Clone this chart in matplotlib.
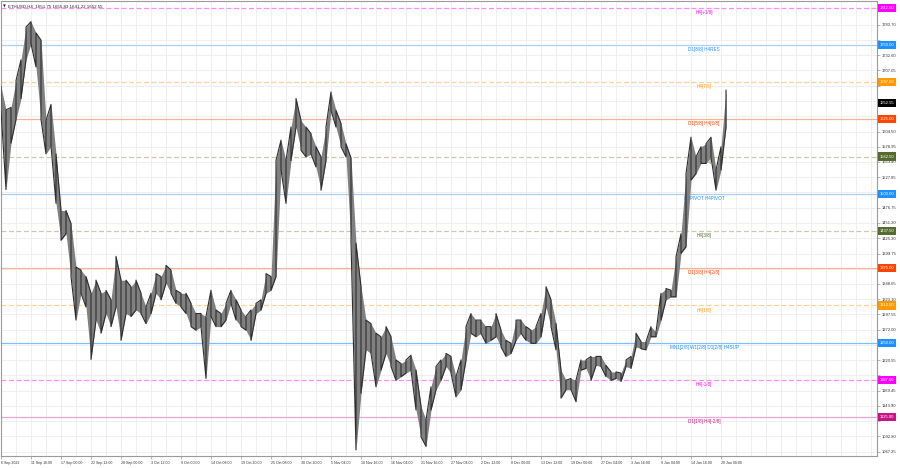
import matplotlib
matplotlib.use("Agg")
import matplotlib.pyplot as plt
import matplotlib.transforms as mtransforms

# ETHUSD H4 - price envelope, one sample every ~5 px
highs = [1680, 1641, 1645, 1690, 1725, 1780, 1789, 1770, 1758, 1623,
         1650, 1567, 1472, 1472, 1450, 1377, 1372, 1361, 1333, 1355,
         1333, 1338, 1322, 1395, 1355, 1355, 1344, 1355, 1333, 1310,
         1333, 1366, 1361, 1380, 1372, 1338, 1333, 1333, 1316, 1299,
         1299, 1294, 1338, 1305, 1299, 1316, 1338, 1322, 1305, 1294,
         1305, 1316, 1322, 1366, 1361, 1556, 1590, 1556, 1612, 1660,
         1623, 1612, 1601, 1579, 1562, 1612, 1671, 1640, 1618, 1584,
         1560, 1417, 1344, 1288, 1282, 1266, 1260, 1277, 1260, 1221,
         1215, 1221, 1229, 1204, 1143, 1120, 1176, 1210, 1221, 1232,
         1227, 1193, 1221, 1277, 1299, 1288, 1288, 1277, 1277, 1299,
         1271, 1254, 1249, 1288, 1288, 1277, 1271, 1277, 1299, 1344,
         1322, 1282, 1204, 1187, 1190, 1187, 1221, 1221, 1227, 1227,
         1227, 1212, 1201, 1201, 1199, 1221, 1227, 1266, 1252, 1252,
         1277, 1268, 1333, 1341, 1338, 1394, 1433, 1534, 1595, 1562,
         1579, 1584, 1595, 1540, 1579, 1674]
lows = [1640, 1507, 1585, 1625, 1660, 1725, 1752, 1713, 1625, 1567,
        1580, 1484, 1422, 1433, 1361, 1288, 1333, 1310, 1222, 1288,
        1266, 1299, 1277, 1310, 1254, 1299, 1294, 1305, 1299, 1282,
        1299, 1333, 1322, 1350, 1333, 1316, 1310, 1299, 1277, 1271,
        1277, 1190, 1294, 1277, 1277, 1288, 1316, 1288, 1277, 1271,
        1254, 1299, 1305, 1333, 1338, 1361, 1540, 1484, 1556, 1612,
        1573, 1562, 1567, 1545, 1506, 1556, 1640, 1612, 1579, 1562,
        1420, 1070, 1165, 1238, 1232, 1176, 1204, 1232, 1210, 1187,
        1193, 1199, 1204, 1137, 1092, 1076, 1137, 1171, 1187, 1210,
        1199, 1159, 1171, 1221, 1266, 1260, 1266, 1249, 1254, 1260,
        1243, 1227, 1232, 1254, 1266, 1254, 1249, 1249, 1260, 1310,
        1277, 1238, 1157, 1171, 1171, 1151, 1204, 1207, 1187, 1212,
        1210, 1193, 1187, 1190, 1185, 1210, 1207, 1243, 1240, 1238,
        1260, 1260, 1288, 1322, 1327, 1327, 1400, 1411, 1523, 1534,
        1551, 1551, 1562, 1506, 1540, 1612]

date_labels = ["6 Sep 2022", "11 Sep 16:00", "17 Sep 00:00", "22 Sep 12:00",
               "28 Sep 00:00", "3 Oct 12:00", "9 Oct 00:00", "14 Oct 08:00",
               "19 Oct 20:00", "25 Oct 08:00", "30 Oct 20:00", "5 Nov 04:00",
               "10 Nov 16:00", "16 Nov 04:00", "21 Nov 16:00", "27 Nov 04:00",
               "2 Dec 12:00", "8 Dec 00:00", "13 Dec 12:00", "19 Dec 00:00",
               "27 Dec 04:00", "3 Jan 16:00", "9 Jan 04:00", "14 Jan 16:00",
               "20 Jan 00:00"]

price_ticks = [1067.25, 1092.80, 1118.35, 1143.90, 1169.45, 1195.00, 1220.55,
               1246.45, 1272.00, 1297.55, 1323.10, 1348.65, 1374.20, 1399.75,
               1425.30, 1451.20, 1476.75, 1502.30, 1527.85, 1553.40, 1578.95,
               1604.50, 1630.35, 1655.95, 1681.50, 1707.05, 1732.60, 1758.15,
               1783.70]

# Murrey math levels
levels = [1812.50, 1750.00, 1687.50, 1625.00, 1562.50, 1500.00,
          1437.50, 1375.00, 1312.50, 1250.00, 1187.50, 1125.00]
level_names = ["H4[+1/8]", "D1[8/8] H4RES", "H4[7/8]", "D1[5/8] H4[6/8]",
               "H4[5/8]", "D1PIVOT H4PIVOT", "H4[3/8]", "D1[3/8] H4[2/8]",
               "H4[1/8]", "MN1[2/8] W1[2/8] D1[2/8] H4SUP", "H4[-1/8]",
               "D1[1/8] H4[-2/8]"]
line_colors = ["#ff8cff", "#a9d0f5", "#ffd09a", "#f7b39a", "#cfc8b0", "#a9d0f5",
               "#cfc8b0", "#f7b39a", "#ffd09a", "#7fbfff", "#ff8cff", "#e9a6d8"]
line_styles = ["--", "-", "--", "-", "--", "-", "--", "-", "--", "-", "--", "-"]
box_colors = ["#ff00ff", "#1e90ff", "#ff9900", "#ff4500", "#556b2f", "#1e90ff",
              "#556b2f", "#ff4500", "#ff9900", "#1e90ff", "#ff00ff", "#c71585"]

last_price = 1652.55
title = "ETHUSD,H4  1651.75 1655.83 1641.22 1652.55"

plt.rcParams["font.family"] = ["Liberation Sans", "DejaVu Sans"]

fig = plt.figure(figsize=(9, 4.68), dpi=100)
ax = fig.add_axes([1 / 900, 12 / 468, 876 / 900, 455 / 468])
ax.set_facecolor("white")

x = list(range(len(highs)))
ax.set_xlim(0, 175.2)
ax.set_ylim(1059.8, 1823.7)

# grid
for gx in range(0, 176, 3):
    ax.axvline(gx, color="#ededed", lw=0.6, zorder=0)
for py in price_ticks:
    ax.axhline(py, color="#ededed", lw=0.6, zorder=0)

# levels
for lv, name, lc, ls, bc in zip(levels, level_names, line_colors, line_styles, box_colors):
    if ls == "--":
        ax.axhline(lv, color=lc, lw=0.9, ls="--", dashes=(4, 2), zorder=1)
    else:
        ax.axhline(lv, color=lc, lw=0.9, zorder=1)
    ax.annotate(name, xy=(140.6, lv), xytext=(0, -1.5), textcoords="offset points",
                ha="center", va="top", fontsize=3.3, color=bc, zorder=2)

# price: grey wick band, then a dark jagged path through each bar's range
ax.fill_between(x, lows, highs, color="#808080", lw=0, zorder=3)
path_x, path_y = [], []
for i in x:
    path_x += [i, i]
    path_y += [highs[i], lows[i]] if i % 2 == 0 else [lows[i], highs[i]]
ax.plot(path_x, path_y, color="#2e2e2e", lw=0.8, zorder=4)

# axes
ax.set_xticks(range(0, 6 * len(date_labels), 6))
ax.set_xticklabels(date_labels, fontsize=2.6, color="#333333", ha="left")
ax.yaxis.tick_right()
ax.set_yticks(price_ticks)
boxed = levels + [last_price]
ax.set_yticklabels([f"{p:.2f}" if min(abs(p - b) for b in boxed) > 9 else ""
                    for p in price_ticks], fontsize=3.0, color="#333333")
ax.tick_params(axis="both", length=2, width=0.5, color="#999999", pad=1.5)
for s in ax.spines.values():
    s.set_color("#9a9a9a")
    s.set_linewidth(0.8)

# price boxes on the right scale
trans = mtransforms.blended_transform_factory(ax.transAxes, ax.transData)
for lv, bc in zip(levels, box_colors):
    ax.text(1.003, lv, f"{lv:.2f}", transform=trans, fontsize=3.0, color="white",
            va="center", ha="left", clip_on=False, zorder=10,
            bbox=dict(boxstyle="square,pad=0.5", fc=bc, ec="none"))
ax.text(1.003, last_price, f"{last_price:.2f}", transform=trans, fontsize=3.0,
        color="white", va="center", ha="left", clip_on=False, zorder=11,
        bbox=dict(boxstyle="square,pad=0.5", fc="black", ec="none"))

ax.text(0.002, 0.992, "\u25bc", transform=ax.transAxes, fontsize=2.6, color="#333333",
        ha="left", va="top", family="DejaVu Sans")
ax.text(0.008, 0.993, title, transform=ax.transAxes, fontsize=3.2, color="#222222",
        ha="left", va="top", zorder=12)

fig.savefig("out.png", dpi=100)
